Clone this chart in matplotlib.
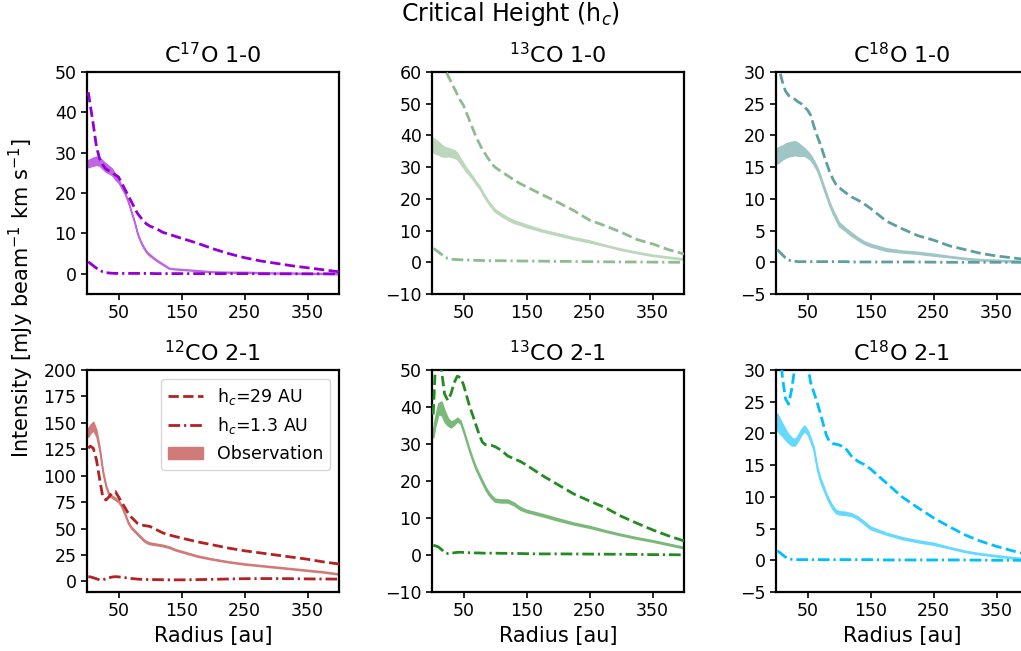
import numpy as np
import matplotlib
matplotlib.use('Agg')
import matplotlib.pyplot as plt
from matplotlib.colors import to_rgb
from matplotlib.patches import Patch
from matplotlib.lines import Line2D

# radius grid [au]
radius = [2, 5, 10, 15, 20, 25, 30, 35, 40, 45, 50, 55, 60, 65, 70, 75, 80, 85, 90, 95,
          100, 110, 120, 130, 140, 150, 175, 200, 225, 250, 275, 300, 325, 350, 375, 400]

titles = ['C$^{17}$O 1-0', '$^{13}$CO 1-0', 'C$^{18}$O 1-0',
          '$^{12}$CO 2-1', '$^{13}$CO 2-1', 'C$^{18}$O 2-1']
colors = ['darkviolet', 'darkseagreen', 'cadetblue', 'firebrick', 'forestgreen', 'deepskyblue']
ylims = [(-5, 50), (-10, 60), (-5, 30), (-10, 200), (-10, 50), (-5, 30)]
yticks = [[0, 10, 20, 30, 40, 50],
          [-10, 0, 10, 20, 30, 40, 50, 60],
          [-5, 0, 5, 10, 15, 20, 25, 30],
          [0, 25, 50, 75, 100, 125, 150, 175, 200],
          [-10, 0, 10, 20, 30, 40, 50],
          [-5, 0, 5, 10, 15, 20, 25, 30]]

# C17O 1-0
c17o_10_hc29 = [45, 42, 37, 31.5, 28.5, 27, 26, 25.5, 25, 24.5, 24, 22.5, 21, 19.5, 18, 16.5, 15, 14, 13, 12.3,
                11.8, 11.2, 10.3, 9.8, 9.3, 8.8, 7.6, 6.2, 5.0, 4.0, 3.2, 2.6, 2.0, 1.5, 1.0, 0.5]
c17o_10_hc13 = [3.0, 2.6, 2.0, 1.4, 0.9, 0.5, 0.3, 0.2, 0.15, 0.1, 0.1, 0.1, 0.1, 0.1, 0.1, 0.1, 0.1, 0.1, 0.1, 0.1,
                0.1, 0.05, 0.05, 0.05, 0.05, 0.05, 0.05, 0.05, 0.05, 0.05, 0, 0, 0, 0, 0, 0]
c17o_10_obs = [27.3, 27.5, 27.8, 28.0, 27.8, 27, 26.3, 25.8, 25.2, 24, 23, 21.5, 20, 18, 15.5, 13, 10, 8, 6.5, 5.3,
               4.6, 3.4, 2.4, 1.4, 1.2, 1.1, 0.8, 0.5, 0.4, 0.4, 0.3, 0.2, 0.2, 0.1, 0.1, 0]
c17o_10_err = [0.9, 0.9, 1.0, 1.0, 1.0, 1.0, 1.0, 0.9, 0.8, 0.6, 0.4, 0.3, 0.2, 0.2, 0.2, 0.2, 0.2, 0.2, 0.2, 0.2,
               0.2, 0.15, 0.15, 0.1, 0.1, 0.1, 0.1, 0.1, 0.1, 0.1, 0.1, 0.1, 0.1, 0.1, 0.1, 0.1]

# 13CO 1-0
co13_10_hc29 = [73, 70, 66.5, 63.5, 61, 59, 57, 55, 53, 51, 49.5, 47, 44.5, 42, 39.5, 37.5, 35.5, 34, 32.5, 31,
                30, 28.6, 27.3, 26, 24.8, 23.8, 21.3, 18.9, 16.3, 13.3, 11.5, 9.5, 7.2, 5.8, 4.0, 2.6]
co13_10_hc13 = [4.4, 4.0, 3.3, 2.5, 1.8, 1.2, 1.0, 0.9, 0.85, 0.8, 0.75, 0.7, 0.7, 0.65, 0.6, 0.6, 0.55, 0.55, 0.5, 0.5,
                0.5, 0.5, 0.45, 0.45, 0.4, 0.4, 0.35, 0.3, 0.25, 0.2, 0.15, 0.1, 0.1, 0.05, 0.02, 0]
co13_10_obs = [37, 36.5, 36, 35.3, 34.8, 34.8, 34.5, 34.2, 33.5, 32, 30.5, 29, 27.8, 26.5, 25, 23.8, 22, 20.3, 18.8, 17.5,
               16.3, 15, 13.8, 12.8, 12.2, 11.5, 10, 8.8, 7.6, 6.6, 5.3, 4.1, 3.1, 2.2, 1.6, 1.0]
co13_10_err = [2.2, 2.2, 2.0, 1.8, 1.5, 1.3, 1.2, 1.2, 1.0, 0.8, 0.7, 0.6, 0.5, 0.5, 0.45, 0.45, 0.4, 0.4, 0.4, 0.4,
               0.4, 0.4, 0.4, 0.4, 0.4, 0.4, 0.3, 0.3, 0.3, 0.3, 0.2, 0.2, 0.2, 0.2, 0.2, 0.2]

# C18O 1-0
c18o_10_hc29 = [32, 30.5, 28.5, 27, 26.3, 26, 25.7, 25.3, 25, 24.5, 24, 23.2, 21.5, 20, 18.7, 17.2, 15.7, 14.3, 13.2, 12.3,
                11.8, 11.0, 10.3, 9.8, 9.2, 8.5, 6.5, 5.3, 4.2, 3.5, 2.6, 2.0, 1.4, 1.0, 0.7, 0.4]
c18o_10_hc13 = [2.0, 1.7, 1.2, 0.7, 0.35, 0.2, 0.15, 0.1, 0.1, 0.1, 0.1, 0.1, 0.1, 0.1, 0.1, 0.1, 0.1, 0.1, 0.1, 0.1,
                0.1, 0.1, 0.05, 0.05, 0.05, 0.05, 0.05, 0.05, 0.05, 0.02, 0, 0, 0, 0, 0, 0]
c18o_10_obs = [16.8, 17.0, 17.3, 17.6, 17.8, 17.9, 18.0, 17.8, 17.6, 17.4, 17.0, 16.5, 15.7, 14.8, 13.5, 12, 10.6, 9.2, 8.0, 7.0,
               6.0, 5.2, 4.4, 3.7, 3.1, 2.7, 2.0, 1.7, 1.5, 1.2, 0.9, 0.6, 0.4, 0.3, 0.2, 0.1]
c18o_10_err = [1.2, 1.2, 1.1, 1.1, 1.1, 1.1, 1.1, 1.0, 0.8, 0.6, 0.5, 0.4, 0.35, 0.3, 0.3, 0.3, 0.3, 0.3, 0.3, 0.3,
               0.3, 0.25, 0.25, 0.2, 0.2, 0.2, 0.2, 0.15, 0.15, 0.15, 0.1, 0.1, 0.1, 0.1, 0.1, 0.1]

# 12CO 2-1
co12_21_hc29 = [126, 128, 126, 115, 97, 80, 77, 80, 84, 85, 80, 75, 70, 65, 61, 58, 55, 53.5, 53, 52.5,
                52, 49, 46, 44, 42.5, 41, 37.5, 34.5, 31.5, 29, 27, 25, 23, 21, 18.5, 16.5]
co12_21_hc13 = [4.5, 4.3, 3.5, 2.5, 1.5, 1.5, 2.5, 3.5, 4.2, 4.5, 4.3, 4, 3.6, 3.2, 2.8, 2.5, 2.2, 2.0, 1.9, 1.8,
                1.8, 1.7, 1.6, 1.5, 1.5, 1.5, 1.7, 2.0, 2.3, 2.6, 2.7, 2.7, 2.6, 2.4, 2.3, 2.2]
co12_21_obs = [141, 144, 147, 140, 125, 104, 90, 82, 80, 78, 76, 71, 64, 56, 51, 48, 45, 42, 39, 37,
               36, 35, 34, 32.5, 30, 28.3, 24, 21, 18.5, 16.5, 15, 13.5, 12, 10.5, 9, 7]
co12_21_err = [4, 4, 4, 3, 2, 1.5, 1.2, 1, 1, 1, 1, 1, 1, 1, 0.8, 0.8, 0.8, 0.8, 0.8, 0.8,
               0.8, 0.7, 0.7, 0.7, 0.6, 0.6, 0.6, 0.5, 0.5, 0.5, 0.5, 0.5, 0.5, 0.5, 0.5, 0.5]

# 13CO 2-1
co13_21_hc29 = [38, 50, 53, 50, 43.5, 41.8, 43.5, 46.5, 48.3, 48, 46, 43, 40, 37.6, 35, 32.5, 30.5, 29.8, 29.7, 29.6,
                29.3, 28.3, 26.8, 26, 25.3, 24.3, 21.5, 19, 16.5, 14.6, 12.8, 10.5, 8.6, 6.8, 5.2, 3.8]
co13_21_hc13 = [2.6, 2.5, 2.2, 1.5, 0.7, 0.4, 0.5, 0.6, 0.7, 0.75, 0.7, 0.65, 0.6, 0.6, 0.55, 0.55, 0.5, 0.5, 0.5, 0.5,
                0.5, 0.45, 0.45, 0.4, 0.4, 0.35, 0.3, 0.3, 0.28, 0.25, 0.22, 0.2, 0.15, 0.1, 0.08, 0.05]
co13_21_obs = [33, 36, 39.5, 39.7, 37.5, 36, 35.3, 35.8, 36.6, 36, 33.5, 30.7, 28, 25.5, 23.3, 21.5, 19.7, 18.0, 16.6, 15.6,
               14.8, 14.6, 14.6, 13.8, 12.6, 11.9, 10.8, 9.6, 8.5, 7.6, 6.5, 5.5, 4.6, 3.8, 2.9, 2.0]
co13_21_err = [1.2, 1.3, 1.5, 1.8, 1.5, 1.0, 0.8, 0.6, 0.5, 0.4, 0.4, 0.4, 0.4, 0.4, 0.4, 0.4, 0.4, 0.4, 0.4, 0.4,
               0.4, 0.4, 0.4, 0.35, 0.35, 0.3, 0.3, 0.3, 0.25, 0.25, 0.2, 0.2, 0.2, 0.2, 0.2, 0.2]

# C18O 2-1
c18o_21_hc29 = [42, 36, 29, 25.5, 24.6, 27, 30.5, 33, 34, 34, 31, 28, 26.5, 25, 23.3, 21.5, 19.7, 18.7, 18.4, 18.3,
                18.2, 17.7, 16.4, 15.6, 15.1, 14.4, 12.2, 10, 8.3, 6.7, 5.3, 4.0, 3.0, 2.2, 1.5, 0.9]
c18o_21_hc13 = [1.5, 1.3, 0.9, 0.5, 0.25, 0.15, 0.1, 0.1, 0.1, 0.1, 0.1, 0.1, 0.1, 0.1, 0.1, 0.1, 0.1, 0.1, 0.1, 0.1,
                0.1, 0.1, 0.1, 0.1, 0.1, 0.1, 0.05, 0.05, 0.05, 0.05, 0.05, 0.05, 0.02, 0, 0, 0]
c18o_21_obs = [21.8, 21.3, 20.6, 19.8, 19.2, 18.7, 18.6, 19.3, 20.2, 20.8, 20.2, 19, 17.5, 14.6, 12.8, 11.5, 10.2, 9.2, 8.3, 7.7,
               7.5, 7.4, 7.2, 6.7, 5.9, 5.1, 4.2, 3.5, 3.0, 2.6, 2.0, 1.4, 1.0, 0.7, 0.4, 0.2]
c18o_21_err = [1.3, 1.2, 1.0, 0.8, 0.7, 0.6, 0.5, 0.45, 0.45, 0.45, 0.35, 0.3, 0.3, 0.3, 0.3, 0.3, 0.25, 0.25, 0.25, 0.25,
               0.25, 0.25, 0.2, 0.2, 0.2, 0.2, 0.15, 0.15, 0.15, 0.15, 0.1, 0.1, 0.1, 0.1, 0.1, 0.1]

hc29 = [c17o_10_hc29, co13_10_hc29, c18o_10_hc29, co12_21_hc29, co13_21_hc29, c18o_21_hc29]
hc13 = [c17o_10_hc13, co13_10_hc13, c18o_10_hc13, co12_21_hc13, co13_21_hc13, c18o_21_hc13]
obs = [c17o_10_obs, co13_10_obs, c18o_10_obs, co12_21_obs, co13_21_obs, c18o_21_obs]
err = [c17o_10_err, co13_10_err, c18o_10_err, co12_21_err, co13_21_err, c18o_21_err]

DASH = (0, (3.7, 1.6))
DASHDOT = (0, (4.2, 1.4, 0.8, 1.4))
LW = 2.0


def lighten(c, a=0.6):
    rgb = np.array(to_rgb(c))
    return tuple(rgb * a + (1 - a))


W, H = 1021, 651
fig = plt.figure(figsize=(W / 100, H / 100), dpi=100)
lefts = [87, 432, 776]
tops = [72, 370]
aw, ah = 252, 222

r = np.array(radius)
for i in range(6):
    row, col = divmod(i, 3)
    ax = fig.add_axes([lefts[col] / W, 1 - (tops[row] + ah) / H, aw / W, ah / H])
    c = colors[i]
    lc = lighten(c)
    o = np.array(obs[i])
    e = np.array(err[i])
    ax.fill_between(r, o - e, o + e, color=lc, lw=1.1, zorder=2)
    ax.plot(r, hc29[i], ls=DASH, color=c, lw=LW, zorder=3)
    ax.plot(r, hc13[i], ls=DASHDOT, color=c, lw=LW, zorder=3)
    ax.set_xlim(0, 400)
    ax.set_ylim(*ylims[i])
    ax.set_xticks([50, 150, 250, 350])
    ax.set_yticks(yticks[i])
    ax.tick_params(labelsize=12.5, width=1.2, length=4)
    for s in ax.spines.values():
        s.set_linewidth(1.6)
    ax.set_title(titles[i], fontsize=16)
    if row == 1:
        ax.set_xlabel('Radius [au]', fontsize=15)
    if i == 3:
        handles = [Line2D([], [], ls=DASH, color=c, lw=LW),
                   Line2D([], [], ls=DASHDOT, color=c, lw=LW),
                   Patch(color=lc)]
        ax.legend(handles, ['h$_c$=29 AU', 'h$_c$=1.3 AU', 'Observation'],
                  loc='upper right', fontsize=12.5)

fig.text(21 / W, 1 - 298 / H, 'Intensity [mJy beam$^{-1}$ km s$^{-1}$]',
         rotation=90, ha='center', va='center', fontsize=15)
fig.text(0.5, 1 - 14 / H, 'Critical Height (h$_c$)', ha='center', va='center', fontsize=17)

fig.savefig('out.png', dpi=100)
